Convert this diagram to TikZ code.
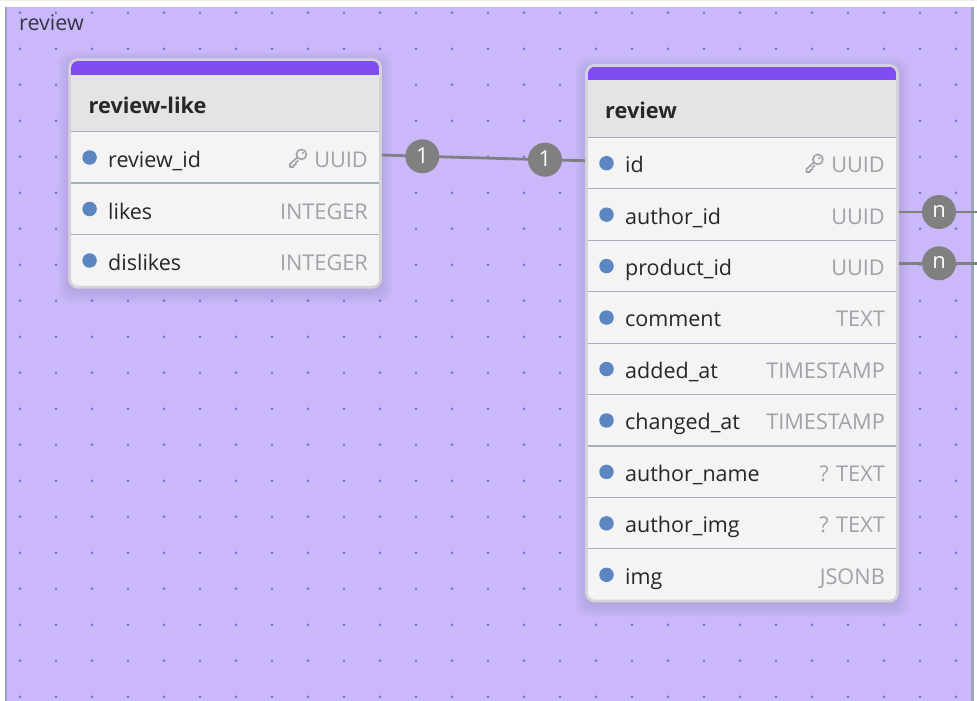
\documentclass[tikz,border=0pt]{standalone}
\usepackage{fontspec}
\setmainfont{Open Sans}
\definecolor{bgpurple}{HTML}{CBB8FA}
\definecolor{edgeblue}{HTML}{98A5C0}
\definecolor{griddot}{HTML}{6A6FD6}
\definecolor{headpurple}{HTML}{7F4DF2}
\definecolor{headgrey}{HTML}{E4E4E7}
\definecolor{rowgrey}{HTML}{F4F4F5}
\definecolor{cardedge}{HTML}{D4D4D8}
\definecolor{ruleblue}{HTML}{A6ADBF}
\definecolor{bullet}{HTML}{5B86BF}
\definecolor{typegrey}{HTML}{A1A1AA}
\definecolor{textdark}{HTML}{27272A}
\definecolor{linkgrey}{HTML}{808080}
\pgfdeclarelayer{linklayer}
\pgfdeclarelayer{toplayer}
\pgfsetlayers{main,linklayer,toplayer}
\tikzset{
  x=1pt,y=-1pt,
  cardbox/.style={draw=cardedge,line width=2.8pt,fill=rowgrey,rounded corners=8pt,inner sep=0pt,outer sep=0pt},
  titletext/.style={anchor=base west,inner sep=0pt,text=textdark,font=\fontsize{21.7}{24}\selectfont\bfseries},
  fieldtext/.style={anchor=base west,inner sep=0pt,text=textdark,font=\fontsize{21.5}{24}\selectfont},
  typetext/.style={anchor=base east,inner sep=0pt,text=typegrey,font=\fontsize{21.7}{24}\selectfont},
  fielddot/.style={circle,fill=bullet,minimum size=14.5pt,inner sep=0pt},
  badge/.style={circle,fill=linkgrey,text=white,minimum size=34pt,inner sep=0pt,font=\fontsize{22}{24}\selectfont},
  linkline/.style={draw=linkgrey,line width=2.8pt},
  rowrule/.style={draw=ruleblue,line width=1.2pt},
  keyicon/.style={draw=typegrey,line width=1.6pt,line join=round},
}
\newcommand{\softshadow}[4]{%
  \foreach \g in {12,10,8,6,4,2}{%
    \fill[black,opacity=0.014,rounded corners=10pt] (#1-\g,#2-\g+4) rectangle (#3+\g,#4+\g+4);}%
}
\newcommand{\keyglyph}[2]{%
  \begin{scope}[shift={(#1,#2)}]
    \draw[keyicon] (3.4,-3.6) circle[radius=5];
    \fill[typegrey] (4.8,-5) circle[radius=1.2];
    \draw[keyicon] (-0.6,-0.6) -- (-8,6) -- (-8,9) -- (-4.4,9) -- (-4.4,6.8) -- (-2.2,6.8) -- (-2.2,4.6) -- (0.4,2.4);
  \end{scope}}
\begin{document}
\begin{tikzpicture}
\useasboundingbox (0,0) rectangle (977,701);
\fill[white] (0,0) rectangle (977,701);
\fill[black!6] (0,0) rectangle (977,1);
\fill[bgpurple] (6,7) rectangle (973,701);
\fill[edgeblue] (4.8,7) rectangle (7.3,701);
\fill[edgeblue] (971.4,7) rectangle (974,701);
\foreach \i in {0,...,26}{\foreach \j in {0,...,19}{%
  \fill[griddot] (20+36*\i,12.7+36*\j) circle[radius=1.4];}}
\node[anchor=base west,inner sep=0pt,text=black!72!bgpurple,font=\fontsize{21.5}{24}\selectfont] (grouplabel) at (19,30.5) {review};

% review-like table
\softshadow{70}{60}{380}{287}
\node[cardbox,anchor=north west,minimum width=310.8pt,minimum height=227.4pt] (likecard) at (69.7,59.8) {};
\begin{scope}
\clip[rounded corners=7pt] (71,61) rectangle (379.3,286);
\fill[headpurple] (71,61) rectangle (379.3,75);
\fill[headgrey] (71,75) rectangle (379.3,131.5);
\end{scope}
\node[titletext] (liketitle) at (88.5,113.5) {review-like};
\foreach \y in {131.5,183,234.5}{\draw[rowrule] (71,\y) -- (379.3,\y);}
\node[fielddot] (liked1) at (89.6,157.5) {};
\node[fielddot] (liked2) at (89.6,209) {};
\node[fielddot] (liked3) at (89.6,260.5) {};
\node[fieldtext] (likef1) at (108,167.4) {review\_id};
\node[fieldtext] (likef2) at (108,219) {likes};
\node[fieldtext] (likef3) at (108,270.4) {dislikes};
\node[typetext] (liket1) at (368,167.4) {UUID};
\node[typetext] (liket2) at (368,219) {INTEGER};
\node[typetext] (liket3) at (368,270.4) {INTEGER};
\keyglyph{298}{158}

% review table
\softshadow{587}{66}{897}{601}
\node[cardbox,anchor=north west,minimum width=311pt,minimum height=535.5pt] (revcard) at (586.5,65.5) {};
\begin{scope}
\clip[rounded corners=7pt] (588,66.7) rectangle (896,599.6);
\fill[headpurple] (588,66.7) rectangle (896,80.3);
\fill[headgrey] (588,80.3) rectangle (896,137.5);
\end{scope}
\node[titletext] (revtitle) at (605,118.5) {review};
\foreach \y in {137.5,188.7,240.2,291.7,343.2,394.7,446,497.5,548.5}{\draw[rowrule] (588,\y) -- (896,\y);}
\foreach \n/\y/\f/\t in {0/172.2/id/UUID,1/224/author\_id/UUID,2/275.2/product\_id/UUID,3/326.6/comment/TEXT,4/378/added\_at/TIMESTAMP,5/429.4/changed\_at/TIMESTAMP,6/481.1/author\_name/? TEXT,7/532.2/author\_img/? TEXT,8/584/img/JSONB}{%
  \node[fielddot] (revd\n) at (606.5,163.2+51.45*\n) {};
  \node[fieldtext] (revf\n) at (625,\y) {\f};
  \node[typetext] (revt\n) at (885,\y) {\t};
}
\keyglyph{814.5}{163}

% connectors
\begin{pgfonlayer}{toplayer}
\node[badge] (one1) at (422.3,156.3) {\raisebox{1.6pt}{1}};
\node[badge] (one2) at (545,159.7) {\raisebox{1.6pt}{1}};
\node[badge] (many1) at (939,212) {\raisebox{1.6pt}{n}};
\node[badge] (many2) at (939,263.3) {\raisebox{1.6pt}{n}};
\end{pgfonlayer}
\coordinate (likeport) at (382,155);
\coordinate (revport) at (585,160.7);
\coordinate (aport) at (899,212);
\coordinate (pport) at (899,263.3);
\coordinate (aout) at (977,212);
\coordinate (pout) at (977,263.3);
\begin{pgfonlayer}{linklayer}
\draw[linkline] (likeport) -- (one1.center) -- (one2.center) -- (revport);
\draw[linkline] (aport) -- (many1.center) -- (aout);
\draw[linkline] (pport) -- (many2.center) -- (pout);
\end{pgfonlayer}
\end{tikzpicture}
\end{document}
